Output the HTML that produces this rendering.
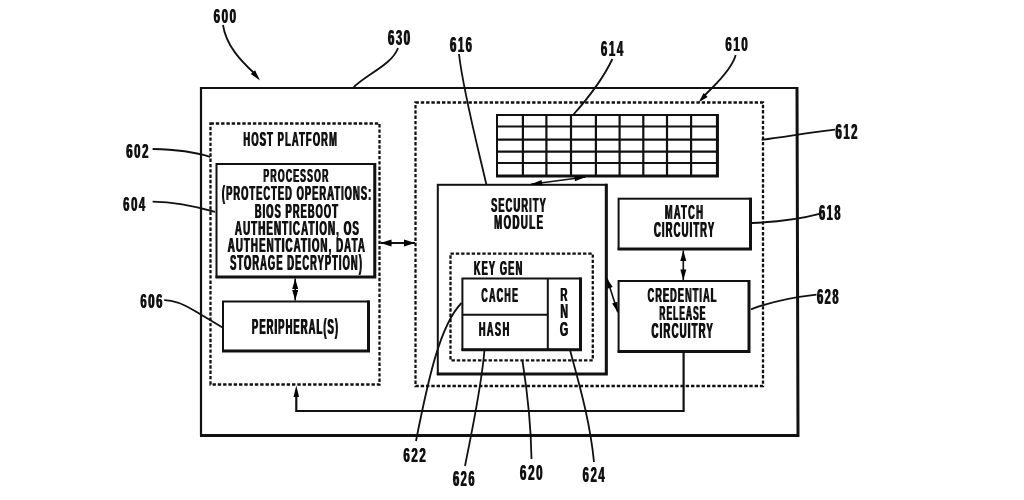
<!DOCTYPE html>
<html><head><meta charset="utf-8"><style>
html,body{margin:0;padding:0;background:#fff;width:1024px;height:500px;overflow:hidden}
svg{display:block;filter:grayscale(1) blur(0.3px)}
text{font-family:"Liberation Sans",sans-serif;font-weight:bold;fill:#111;stroke:none}
</style></head><body>
<svg width="1024" height="500" viewBox="0 0 1024 500" stroke="#111" stroke-linecap="butt">
<path d="M201,435.5 L201,88 L797,88" fill="none" stroke-width="2.2"/>
<path d="M797,86.9 L798,435.5 L200,435.5" fill="none" stroke-width="3" stroke-linejoin="miter"/>
<rect x="210.5" y="123.5" width="169.00" height="261.00" fill="none" stroke-width="2.3" stroke-dasharray="3.4 1.9"/>
<rect x="216.5" y="164" width="158.30" height="113.00" fill="none" stroke-width="2.0"/>
<path d="M374.8,163.0 L374.8,277 L215.5,277" fill="none" stroke-width="3.0" stroke-linejoin="miter"/>
<rect x="223" y="301.5" width="145.50" height="49.50" fill="none" stroke-width="2.0"/>
<path d="M368.5,300.5 L368.5,351 L222.0,351" fill="none" stroke-width="3.0" stroke-linejoin="miter"/>
<rect x="415.5" y="102.5" width="347.50" height="283.50" fill="none" stroke-width="2.3" stroke-dasharray="3.4 1.9"/>
<rect x="497" y="115" width="220.40" height="61.00" fill="none" stroke-width="2.0"/>
<path d="M717.4,114.0 L717.4,176 L496.0,176" fill="none" stroke-width="3.0" stroke-linejoin="miter"/>
<line x1="522.9" y1="115" x2="522.9" y2="176" stroke-width="2.2"/>
<line x1="546.4" y1="115" x2="546.4" y2="176" stroke-width="2.2"/>
<line x1="571" y1="115" x2="571" y2="176" stroke-width="2.2"/>
<line x1="595.9" y1="115" x2="595.9" y2="176" stroke-width="2.2"/>
<line x1="619.6" y1="115" x2="619.6" y2="176" stroke-width="2.2"/>
<line x1="643.3" y1="115" x2="643.3" y2="176" stroke-width="2.2"/>
<line x1="667" y1="115" x2="667" y2="176" stroke-width="2.2"/>
<line x1="691.1" y1="115" x2="691.1" y2="176" stroke-width="2.2"/>
<line x1="497" y1="126.5" x2="717.4" y2="126.5" stroke-width="2.2"/>
<line x1="497" y1="139.7" x2="717.4" y2="139.7" stroke-width="2.2"/>
<line x1="497" y1="151.6" x2="717.4" y2="151.6" stroke-width="2.2"/>
<line x1="497" y1="163" x2="717.4" y2="163" stroke-width="2.2"/>
<rect x="437.8" y="184.8" width="168.50" height="189.20" fill="none" stroke-width="2.0"/>
<path d="M606.3,183.8 L606.3,374 L436.8,374" fill="none" stroke-width="3.0" stroke-linejoin="miter"/>
<rect x="450.5" y="253.6" width="142.30" height="106.70" fill="none" stroke-width="2.3" stroke-dasharray="3.4 1.9"/>
<rect x="462.4" y="278.5" width="118.10" height="71.30" fill="none" stroke-width="2.0"/>
<path d="M580.5,277.5 L580.5,349.8 L461.4,349.8" fill="none" stroke-width="3.0" stroke-linejoin="miter"/>
<line x1="547.8" y1="278.5" x2="547.8" y2="349.8" stroke-width="2.0"/>
<line x1="462.4" y1="314.7" x2="547.8" y2="314.7" stroke-width="2.0"/>
<rect x="618.6" y="198.7" width="131.90" height="50.30" fill="none" stroke-width="2.0"/>
<path d="M750.5,197.7 L750.5,249 L617.6,249" fill="none" stroke-width="3.0" stroke-linejoin="miter"/>
<rect x="618.6" y="281" width="130.40" height="70.60" fill="none" stroke-width="2.0"/>
<path d="M749,280.0 L749,351.6 L617.6,351.6" fill="none" stroke-width="3.0" stroke-linejoin="miter"/>
<line x1="295.2" y1="278.5" x2="295.2" y2="300.5" stroke-width="1.6"/>
<path d="M295.20,278.50 L298.20,289.00 L292.20,289.00 Z" stroke="none" fill="#000"/>
<path d="M295.20,300.50 L292.20,290.00 L298.20,290.00 Z" stroke="none" fill="#000"/>
<line x1="683.3" y1="250.5" x2="683.3" y2="280" stroke-width="1.6"/>
<path d="M683.30,250.50 L686.30,261.00 L680.30,261.00 Z" stroke="none" fill="#000"/>
<path d="M683.30,280.00 L680.30,269.50 L686.30,269.50 Z" stroke="none" fill="#000"/>
<line x1="380.5" y1="243" x2="415" y2="243" stroke-width="1.8"/>
<path d="M380.50,243.00 L391.50,239.40 L391.50,246.60 Z" stroke="none" fill="#000"/>
<path d="M415.00,243.00 L404.00,246.60 L404.00,239.40 Z" stroke="none" fill="#000"/>
<line x1="531" y1="184.2" x2="585.5" y2="177" stroke-width="1.6"/>
<path d="M531.00,184.20 L541.54,179.98 L542.27,185.54 Z" stroke="none" fill="#000"/>
<path d="M585.50,177.00 L574.96,181.22 L574.23,175.66 Z" stroke="none" fill="#000"/>
<line x1="607" y1="278.4" x2="617.8" y2="312.2" stroke-width="1.6"/>
<path d="M607.00,278.40 L612.71,287.07 L607.38,288.78 Z" stroke="none" fill="#000"/>
<path d="M617.80,312.20 L612.09,303.53 L617.42,301.82 Z" stroke="none" fill="#000"/>
<path d="M683.6,351.6 L683.6,411 L296.3,411 L296.3,394" fill="none" stroke-width="2.2"/>
<path d="M296.30,385.50 L299.10,397.00 L293.50,397.00 Z" stroke="none" fill="#000"/>
<path d="M223,25 C226,45 240,60 254,73" fill="none" stroke-width="1.8"/>
<path d="M260.00,80.50 L250.77,73.89 L255.06,70.28 Z" stroke="none" fill="#000"/>
<path d="M398,48 C392,65 365,75 353,88" fill="none" stroke-width="1.8"/>
<path d="M459,54 C463,90 476,140 486.5,185" fill="none" stroke-width="1.8"/>
<path d="M612.4,59 Q600,85 573,115" fill="none" stroke-width="1.8"/>
<path d="M735.7,55 C733,65 725,75 712,88 L705,95" fill="none" stroke-width="1.8"/>
<path d="M698.70,102.20 L703.60,93.04 L707.64,96.92 Z" stroke="none" fill="#000"/>
<path d="M835,129.6 C810,132.5 790,136 761.7,139.8" fill="none" stroke-width="1.8"/>
<path d="M152.6,149 C175,149.5 195,152 210.1,156.8" fill="none" stroke-width="1.8"/>
<path d="M152.6,201.6 C175,202 198,207 215,211.8" fill="none" stroke-width="1.8"/>
<path d="M164.2,300.2 C175,300 185,305 195,311 L222.5,327.4" fill="none" stroke-width="1.8"/>
<path d="M751.7,223 C775,222 800,219 819.5,213.8" fill="none" stroke-width="1.8"/>
<path d="M751,309.3 C770,302 795,297 816.5,294.6" fill="none" stroke-width="1.8"/>
<path d="M461.5,303 C440,325 428,380 416,441" fill="none" stroke-width="1.8"/>
<path d="M484.5,350 C481,390 472,430 465,466" fill="none" stroke-width="1.8"/>
<path d="M522.5,361 C527,390 531,420 531.5,459" fill="none" stroke-width="1.8"/>
<path d="M570,350 C578,380 590,420 594,462" fill="none" stroke-width="1.8"/>
<text transform="translate(213.17,23.00) scale(0.5672,1)" font-size="20.36" letter-spacing="2.86">600</text>
<text transform="translate(213.97,23.00) scale(0.5672,1)" font-size="20.36" letter-spacing="2.86">600</text>
<text transform="translate(387.57,45.00) scale(0.5235,1)" font-size="21.65" letter-spacing="3.04">630</text>
<text transform="translate(388.38,45.00) scale(0.5235,1)" font-size="21.65" letter-spacing="3.04">630</text>
<text transform="translate(449.58,51.60) scale(0.5219,1)" font-size="21.65" letter-spacing="3.05">616</text>
<text transform="translate(450.38,51.60) scale(0.5219,1)" font-size="21.65" letter-spacing="3.05">616</text>
<text transform="translate(600.57,56.00) scale(0.5267,1)" font-size="21.65" letter-spacing="3.10">614</text>
<text transform="translate(601.37,56.00) scale(0.5267,1)" font-size="21.65" letter-spacing="3.10">614</text>
<text transform="translate(725.07,50.80) scale(0.5633,1)" font-size="20.22" letter-spacing="2.84">610</text>
<text transform="translate(725.87,50.80) scale(0.5633,1)" font-size="20.22" letter-spacing="2.84">610</text>
<text transform="translate(835.08,138.70) scale(0.5316,1)" font-size="21.22" letter-spacing="2.98">612</text>
<text transform="translate(835.88,138.70) scale(0.5316,1)" font-size="21.22" letter-spacing="2.98">612</text>
<text transform="translate(125.87,158.00) scale(0.5554,1)" font-size="20.50" letter-spacing="2.88">602</text>
<text transform="translate(126.67,158.00) scale(0.5554,1)" font-size="20.50" letter-spacing="2.88">602</text>
<text transform="translate(122.78,211.30) scale(0.5603,1)" font-size="20.07" letter-spacing="2.88">604</text>
<text transform="translate(123.58,211.30) scale(0.5603,1)" font-size="20.07" letter-spacing="2.88">604</text>
<text transform="translate(139.97,307.70) scale(0.5615,1)" font-size="20.22" letter-spacing="2.84">606</text>
<text transform="translate(140.77,307.70) scale(0.5615,1)" font-size="20.22" letter-spacing="2.84">606</text>
<text transform="translate(818.59,220.30) scale(0.5148,1)" font-size="21.36" letter-spacing="3.02">618</text>
<text transform="translate(819.39,220.30) scale(0.5148,1)" font-size="21.36" letter-spacing="3.02">618</text>
<text transform="translate(816.58,304.30) scale(0.5198,1)" font-size="21.36" letter-spacing="3.02">628</text>
<text transform="translate(817.38,304.30) scale(0.5198,1)" font-size="21.36" letter-spacing="3.02">628</text>
<text transform="translate(402.97,462.20) scale(0.5632,1)" font-size="20.50" letter-spacing="2.88">622</text>
<text transform="translate(403.77,462.20) scale(0.5632,1)" font-size="20.50" letter-spacing="2.88">622</text>
<text transform="translate(452.58,485.50) scale(0.5120,1)" font-size="21.65" letter-spacing="3.05">626</text>
<text transform="translate(453.38,485.50) scale(0.5120,1)" font-size="21.65" letter-spacing="3.05">626</text>
<text transform="translate(519.56,480.40) scale(0.5383,1)" font-size="21.65" letter-spacing="3.04">620</text>
<text transform="translate(520.36,480.40) scale(0.5383,1)" font-size="21.65" letter-spacing="3.04">620</text>
<text transform="translate(582.28,482.40) scale(0.4996,1)" font-size="22.51" letter-spacing="3.23">624</text>
<text transform="translate(583.08,482.40) scale(0.4996,1)" font-size="22.51" letter-spacing="3.23">624</text>
<text transform="translate(243.07,145.50) scale(0.4610,1)" font-size="20.22" letter-spacing="2.50">HOST PLATFORM</text>
<text transform="translate(243.87,145.50) scale(0.4610,1)" font-size="20.22" letter-spacing="2.50">HOST PLATFORM</text>
<text transform="translate(263.02,181.50) scale(0.4581,1)" font-size="18.91" letter-spacing="2.63">PROCESSOR</text>
<text transform="translate(263.82,181.50) scale(0.4581,1)" font-size="18.91" letter-spacing="2.63">PROCESSOR</text>
<text transform="translate(221.53,199.50) scale(0.4642,1)" font-size="20.07" letter-spacing="2.28">(PROTECTED OPERATIONS:</text>
<text transform="translate(222.33,199.50) scale(0.4642,1)" font-size="20.07" letter-spacing="2.28">(PROTECTED OPERATIONS:</text>
<text transform="translate(254.38,217.50) scale(0.4631,1)" font-size="19.93" letter-spacing="2.43">BIOS PREBOOT</text>
<text transform="translate(255.18,217.50) scale(0.4631,1)" font-size="19.93" letter-spacing="2.43">BIOS PREBOOT</text>
<text transform="translate(234.56,235.00) scale(0.4758,1)" font-size="20.51" letter-spacing="2.29">AUTHENTICATION, OS</text>
<text transform="translate(235.36,235.00) scale(0.4758,1)" font-size="20.51" letter-spacing="2.29">AUTHENTICATION, OS</text>
<text transform="translate(227.36,252.20) scale(0.4880,1)" font-size="19.93" letter-spacing="2.21">AUTHENTICATION, DATA</text>
<text transform="translate(228.16,252.20) scale(0.4880,1)" font-size="19.93" letter-spacing="2.21">AUTHENTICATION, DATA</text>
<text transform="translate(229.72,269.70) scale(0.4384,1)" font-size="21.24" letter-spacing="2.49">STORAGE DECRYPTION)</text>
<text transform="translate(230.52,269.70) scale(0.4384,1)" font-size="21.24" letter-spacing="2.49">STORAGE DECRYPTION)</text>
<text transform="translate(251.56,333.70) scale(0.4211,1)" font-size="22.40" letter-spacing="2.52">PERIPHERAL(S)</text>
<text transform="translate(252.36,333.70) scale(0.4211,1)" font-size="22.40" letter-spacing="2.52">PERIPHERAL(S)</text>
<text transform="translate(490.72,211.80) scale(0.4390,1)" font-size="20.95" letter-spacing="2.65">SECURITY</text>
<text transform="translate(491.52,211.80) scale(0.4390,1)" font-size="20.95" letter-spacing="2.65">SECURITY</text>
<text transform="translate(493.75,228.80) scale(0.4591,1)" font-size="20.95" letter-spacing="3.12">MODULE</text>
<text transform="translate(494.55,228.80) scale(0.4591,1)" font-size="20.95" letter-spacing="3.12">MODULE</text>
<text transform="translate(473.38,275.00) scale(0.4500,1)" font-size="20.51" letter-spacing="2.62">KEY GEN</text>
<text transform="translate(474.18,275.00) scale(0.4500,1)" font-size="20.51" letter-spacing="2.62">KEY GEN</text>
<text transform="translate(481.05,302.00) scale(0.4178,1)" font-size="20.95" letter-spacing="3.21">CACHE</text>
<text transform="translate(481.85,302.00) scale(0.4178,1)" font-size="20.95" letter-spacing="3.21">CACHE</text>
<text transform="translate(478.38,335.60) scale(0.4420,1)" font-size="20.80" letter-spacing="3.30">HASH</text>
<text transform="translate(479.18,335.60) scale(0.4420,1)" font-size="20.80" letter-spacing="3.30">HASH</text>
<text transform="translate(559.94,300.80) scale(0.5105,1)" font-size="19.20" letter-spacing="0.00">R</text>
<text transform="translate(560.74,300.80) scale(0.5105,1)" font-size="19.20" letter-spacing="0.00">R</text>
<text transform="translate(559.89,318.40) scale(0.5374,1)" font-size="19.64" letter-spacing="0.00">N</text>
<text transform="translate(560.69,318.40) scale(0.5374,1)" font-size="19.64" letter-spacing="0.00">N</text>
<text transform="translate(559.57,336.00) scale(0.5128,1)" font-size="20.80" letter-spacing="0.00">G</text>
<text transform="translate(560.37,336.00) scale(0.5128,1)" font-size="20.80" letter-spacing="0.00">G</text>
<text transform="translate(664.38,219.00) scale(0.4495,1)" font-size="20.51" letter-spacing="3.08">MATCH</text>
<text transform="translate(665.18,219.00) scale(0.4495,1)" font-size="20.51" letter-spacing="3.08">MATCH</text>
<text transform="translate(653.62,237.20) scale(0.4227,1)" font-size="22.40" letter-spacing="2.64">CIRCUITRY</text>
<text transform="translate(654.42,237.20) scale(0.4227,1)" font-size="22.40" letter-spacing="2.64">CIRCUITRY</text>
<text transform="translate(647.24,302.40) scale(0.4461,1)" font-size="20.36" letter-spacing="2.54">CREDENTIAL</text>
<text transform="translate(648.04,302.40) scale(0.4461,1)" font-size="20.36" letter-spacing="2.54">CREDENTIAL</text>
<text transform="translate(659.04,319.50) scale(0.4070,1)" font-size="20.36" letter-spacing="2.76">RELEASE</text>
<text transform="translate(659.84,319.50) scale(0.4070,1)" font-size="20.36" letter-spacing="2.76">RELEASE</text>
<text transform="translate(651.11,337.50) scale(0.4541,1)" font-size="21.24" letter-spacing="2.51">CIRCUITRY</text>
<text transform="translate(651.91,337.50) scale(0.4541,1)" font-size="21.24" letter-spacing="2.51">CIRCUITRY</text>
</svg></body></html>
